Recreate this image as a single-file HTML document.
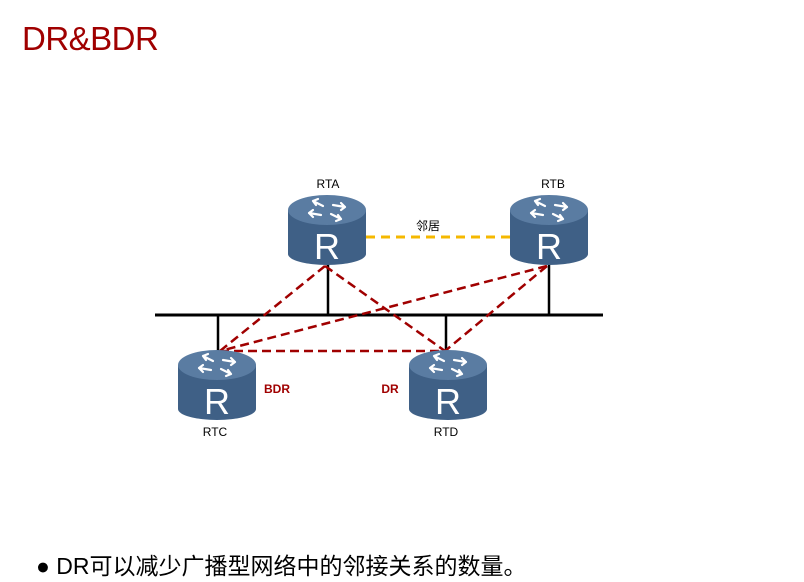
<!DOCTYPE html>
<html><head><meta charset="utf-8"><style>
body{margin:0;width:804px;height:582px;background:#fff;overflow:hidden;position:relative;font-family:"Liberation Sans","Noto Sans CJK SC",sans-serif}
.t{position:absolute;left:22px;top:20px;font-size:33px;color:#a00000;letter-spacing:-0.5px}
.b{position:absolute;left:36px;top:547px;font-size:23px;color:#000}
</style></head><body>
<div class="t">DR&amp;BDR</div>
<svg width="804" height="582" style="position:absolute;left:0;top:0">
<defs>
<g id="r">
<path d="M-39,0 L-39,44 A39,11 0 0 0 39,44 L39,0 Z" fill="#3f6086"/>
<ellipse cx="0" cy="0" rx="39" ry="15" fill="#5a7ca2"/>
<g stroke="#fff" stroke-width="2.2" fill="none" stroke-linecap="round">
<path d="M-4,-4 L-14,-9 M-14,-9 L-9,-11 M-14,-9 L-11,-5"/>
<path d="M4,4 L14,9 M14,9 L9,11 M14,9 L11,5"/>
<path d="M-6,5 L-18,3 M-18,3 L-14,0 M-18,3 L-14,7"/>
<path d="M6,-5 L18,-3 M18,-3 L14,0 M18,-3 L14,-7"/>
</g>
<text x="0" y="49" text-anchor="middle" font-family="Liberation Sans" font-size="36" fill="#fff">R</text>
</g>
</defs>
<line x1="155" y1="315" x2="603" y2="315" stroke="#000" stroke-width="3"/>
<g stroke="#000" stroke-width="2.5">
<line x1="328" y1="262" x2="328" y2="315"/><line x1="549" y1="262" x2="549" y2="315"/>
<line x1="218" y1="315" x2="218" y2="352"/><line x1="446" y1="315" x2="446" y2="352"/>
</g>
<line x1="366" y1="237" x2="511" y2="237" stroke="#f5b800" stroke-width="3" stroke-dasharray="9,6"/>
<g stroke="#a00000" stroke-width="2.5" stroke-dasharray="9,5" fill="none">
<line x1="325" y1="266" x2="220" y2="351"/>
<line x1="325" y1="266" x2="445" y2="351"/>
<line x1="547" y1="266" x2="220" y2="351"/>
<line x1="547" y1="266" x2="445" y2="351"/>
<line x1="220" y1="351" x2="445" y2="351"/>
</g>
<use href="#r" x="327" y="210"/>
<use href="#r" x="549" y="210"/>
<use href="#r" x="217" y="365"/>
<use href="#r" x="448" y="365"/>
<g font-family="Liberation Sans" font-size="12" text-anchor="middle">
<text x="328" y="188">RTA</text><text x="553" y="188">RTB</text>
<text x="215" y="436">RTC</text><text x="446" y="436">RTD</text>
<text x="428" y="230" font-family="Noto Sans CJK SC">邻居</text>
<text x="277" y="393" fill="#a00000" font-weight="bold">BDR</text>
<text x="390" y="393" fill="#a00000" font-weight="bold">DR</text>
</g>
</svg>
<div class="b">●&nbsp;DR可以减少广播型网络中的邻接关系的数量。</div>
</body></html>
